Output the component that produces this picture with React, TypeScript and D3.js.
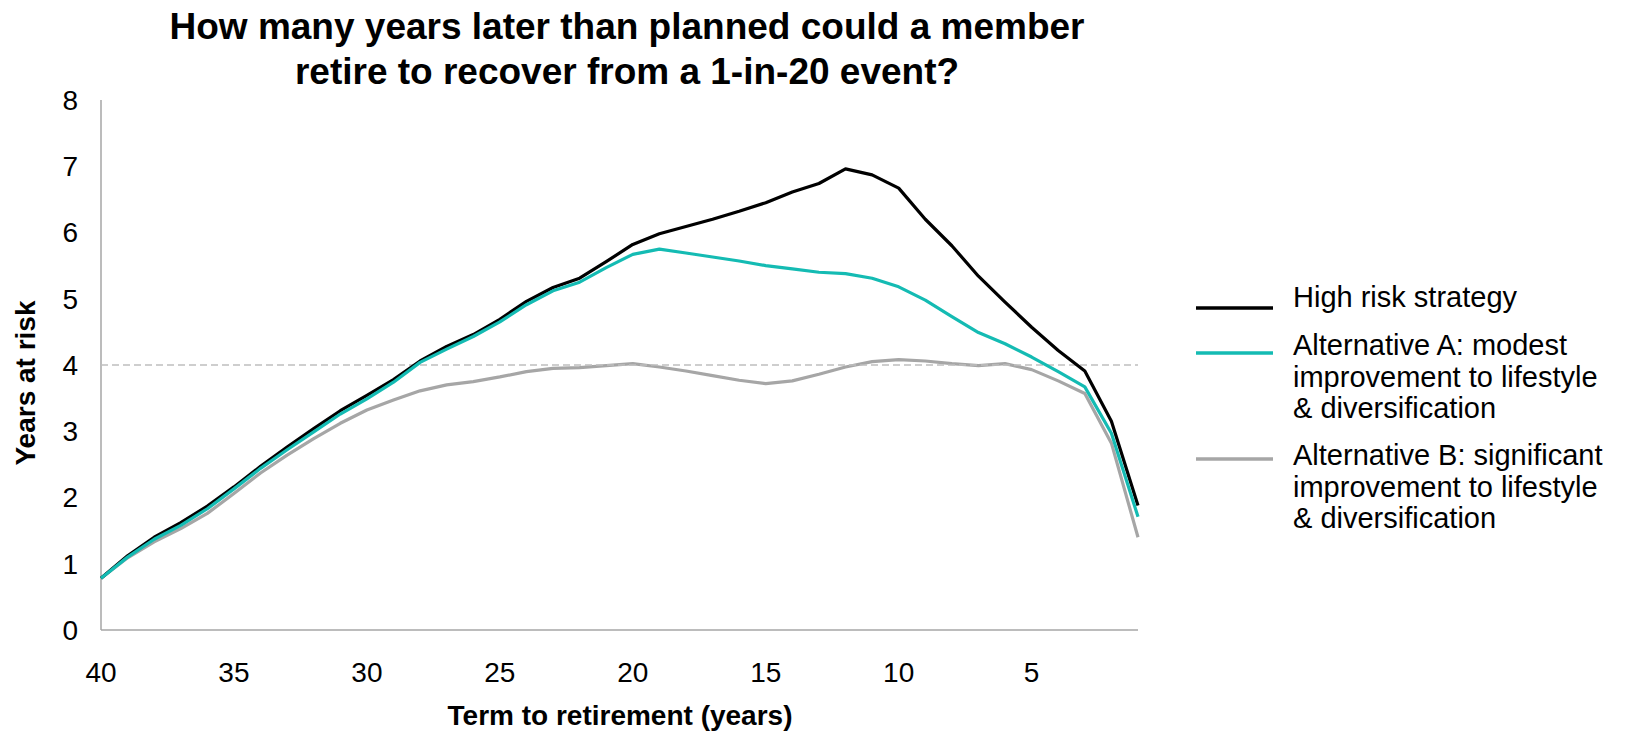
import React from "react";
import * as d3 from "d3";

// Term to retirement (years), counting down to retirement
const years = [40, 39, 38, 37, 36, 35, 34, 33, 32, 31, 30, 29, 28, 27, 26, 25, 24, 23, 22, 21, 20, 19, 18, 17, 16, 15, 14, 13, 12, 11, 10, 9, 8, 7, 6, 5, 4, 3, 2, 1];

const highRisk = [0.78, 1.12, 1.4, 1.62, 1.87, 2.16, 2.47, 2.76, 3.04, 3.31, 3.54, 3.78, 4.06, 4.28, 4.46, 4.69, 4.96, 5.17, 5.31, 5.56, 5.82, 5.98, 6.09, 6.2, 6.32, 6.45, 6.61, 6.74, 6.96, 6.87, 6.67, 6.2, 5.8, 5.34, 4.95, 4.57, 4.22, 3.91, 3.15, 1.88];
const altA = [0.78, 1.1, 1.37, 1.58, 1.83, 2.13, 2.44, 2.72, 2.99, 3.26, 3.49, 3.74, 4.04, 4.24, 4.43, 4.65, 4.91, 5.12, 5.25, 5.47, 5.67, 5.75, 5.69, 5.63, 5.57, 5.5, 5.45, 5.4, 5.38, 5.31, 5.18, 4.98, 4.73, 4.49, 4.32, 4.12, 3.9, 3.67, 2.97, 1.71];
const altB = [0.78, 1.09, 1.33, 1.53, 1.76, 2.06, 2.37, 2.64, 2.89, 3.12, 3.32, 3.47, 3.61, 3.7, 3.75, 3.82, 3.9, 3.95, 3.96, 3.99, 4.02, 3.97, 3.91, 3.84, 3.77, 3.72, 3.76, 3.86, 3.97, 4.05, 4.08, 4.06, 4.02, 3.99, 4.02, 3.93, 3.76, 3.57, 2.82, 1.4];

const xTicks = [40, 35, 30, 25, 20, 15, 10, 5];
const yTicks = [0, 1, 2, 3, 4, 5, 6, 7, 8];
const threshold = 4;

const titleLines = ["How many years later than planned could a member", "retire to recover from a 1-in-20 event?"];
const legendItems = [
  { lines: ["High risk strategy"], color: "#000000" },
  { lines: ["Alternative A: modest", "improvement to lifestyle", "& diversification"], color: "#14BBB3" },
  { lines: ["Alternative B: significant", "improvement to lifestyle", "& diversification"], color: "#A6A6A6" },
];

const FONT = "'Liberation Sans', Arial, sans-serif";

export default function App() {
  const W = 1625;
  const H = 732;
  const left = 101, right = 1138, top = 100, bottom = 630;

  const x = d3.scaleLinear().domain([40, 1]).range([left, right]);
  const y = d3.scaleLinear().domain([0, 8]).range([bottom, top]);

  const line = d3
    .line<number>()
    .x((_, i) => x(years[i]))
    .y((d) => y(d));

  const series = [
    { values: altB, color: "#A6A6A6" },
    { values: highRisk, color: "#000000" },
    { values: altA, color: "#14BBB3" },
  ];

  const legendStarts = [297, 345, 455];
  const legendLineY = [308, 353, 459];
  const lh = 31.5;

  return (
    <svg width={W} height={H} style={{ position: "absolute", left: 0, top: 0, background: "#fff" }} fontFamily={FONT}>
      {/* title */}
      {titleLines.map((t, i) => (
        <text key={i} x={627} y={39 + i * 44.5} textAnchor="middle" fontSize={37} fontWeight="bold" fill="#000">
          {t}
        </text>
      ))}

      {/* y tick labels */}
      {yTicks.map((t) => (
        <text key={t} x={78} y={y(t)} dy="0.35em" textAnchor="end" fontSize={28} fill="#000">
          {t}
        </text>
      ))}

      {/* x tick labels */}
      {xTicks.map((t) => (
        <text key={t} x={x(t)} y={682} textAnchor="middle" fontSize={28} fill="#000">
          {t}
        </text>
      ))}

      {/* axis titles */}
      <text x={620} y={725} textAnchor="middle" fontSize={28} fontWeight="bold" fill="#000">
        Term to retirement (years)
      </text>
      <text transform={`translate(35,383) rotate(-90)`} textAnchor="middle" fontSize={28} fontWeight="bold" fill="#000">
        Years at risk
      </text>

      {/* axes */}
      <line x1={left} x2={left} y1={top} y2={bottom} stroke="#A6A6A6" strokeWidth={1.5} />
      <line x1={left} x2={right} y1={bottom} y2={bottom} stroke="#A6A6A6" strokeWidth={1.5} />

      {/* series */}
      <path d={line(series[0].values) || ""} fill="none" stroke={series[0].color} strokeWidth={3.2} strokeLinejoin="round" />
      <line x1={left} x2={right} y1={y(threshold)} y2={y(threshold)} stroke="#BFBFBF" strokeWidth={1.5} strokeDasharray="7,4" />
      {series.slice(1).map((s, i) => (
        <path key={i} d={line(s.values) || ""} fill="none" stroke={s.color} strokeWidth={3.2} strokeLinejoin="round" />
      ))}

      {/* legend */}
      {legendItems.map((item, i) => (
        <g key={i}>
          <line x1={1196} x2={1273} y1={legendLineY[i]} y2={legendLineY[i]} stroke={item.color} strokeWidth={3.5} />
          {item.lines.map((l, j) => (
            <text key={j} x={1293} y={legendStarts[i] + j * lh} dy="0.35em" fontSize={29} fill="#000">
              {l}
            </text>
          ))}
        </g>
      ))}
    </svg>
  );
}
